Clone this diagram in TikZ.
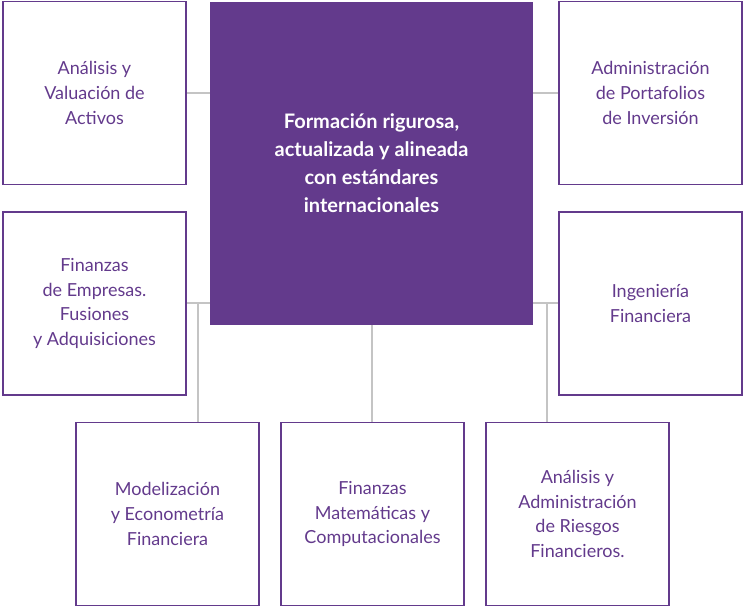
\documentclass[tikz,border=0pt]{standalone}
\usepackage{fontspec}
\setmainfont{Lato}
\definecolor{morado}{HTML}{633A8C}
\definecolor{linea}{HTML}{C4C4C4}
\tikzset{
  caja/.style={draw=morado, line width=1.2pt, minimum width=137pt, minimum height=137pt,
    align=center, text=morado, font=\fontsize{13.5}{18.5}\selectfont, inner sep=0pt},
  centro/.style={fill=morado, minimum width=242pt, minimum height=242pt, align=center,
    text=white, font=\bfseries\fontsize{15}{21}\selectfont, inner sep=0pt},
  conector/.style={draw=linea, line width=1pt}
}
\begin{document}
\begin{tikzpicture}[x=0.75pt, y=-0.75pt]
  \useasboundingbox (0,0) rectangle (744,608);
  % lineas
  \coordinate (izq) at (198,303);
  \coordinate (der) at (547,303);
  \draw[conector] (186,93) -- (210,93);
  \draw[conector] (533,93) -- (559,93);
  \draw[conector] (186,303) -- (210,303);
  \draw[conector] (533,303) -- (559,303);
  \draw[conector] (izq) -- (198,423);
  \draw[conector] (der) -- (547,423);
  \draw[conector] (372,325) -- (372,423);
  % cajas
  \node[centro] (nucleo) at (371.5,163.5) {Formación rigurosa,\\actualizada y alineada\\con estándares\\internacionales};
  \node[caja] (activos) at (94.5,93) {Análisis y\\Valuación de\\Activos};
  \node[caja] (empresas) at (94.5,303.5) {Finanzas\\de Empresas.\\Fusiones\\y Adquisiciones};
  \node[caja] (portafolios) at (650.5,93) {Administración\\de Portafolios\\de Inversión};
  \node[caja] (ingenieria) at (650.5,303.5) {Ingeniería\\Financiera};
  \node[caja] (modelos) at (167.5,514) {Modelización\\y Econometría\\Financiera};
  \node[caja] (matematicas) at (372.5,514) {Finanzas\\Matemáticas y\\Computacionales};
  \node[caja] (riesgos) at (577.5,514) {Análisis y\\Administración\\de Riesgos\\Financieros.};
\end{tikzpicture}
\end{document}
